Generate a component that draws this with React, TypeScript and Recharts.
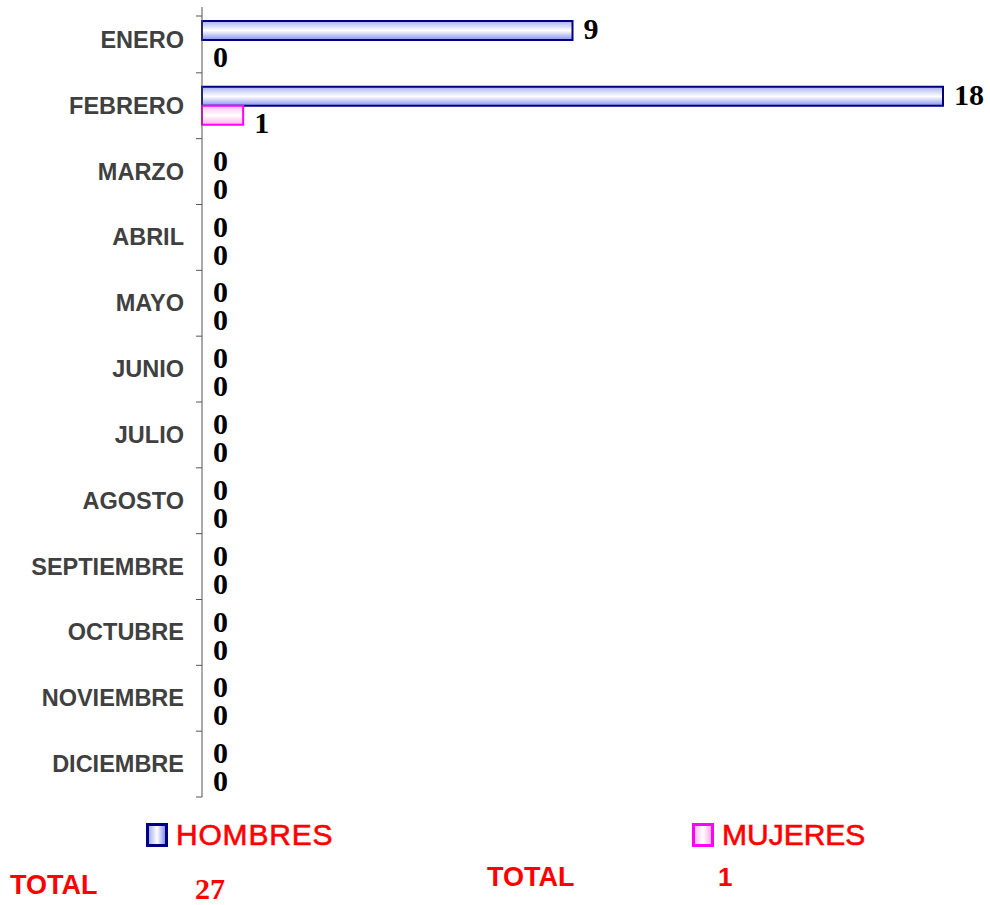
import React from 'react';
import { BarChart, Bar, XAxis, YAxis, LabelList, Cell } from 'recharts';

const months = ['ENERO', 'FEBRERO', 'MARZO', 'ABRIL', 'MAYO', 'JUNIO', 'JULIO', 'AGOSTO', 'SEPTIEMBRE', 'OCTUBRE', 'NOVIEMBRE', 'DICIEMBRE'];
const hombres = [9, 18, 0, 0, 0, 0, 0, 0, 0, 0, 0, 0];
const mujeres = [0, 1, 0, 0, 0, 0, 0, 0, 0, 0, 0, 0];
const seriesNames = ['HOMBRES', 'MUJERES'];
const totalLabel = 'TOTAL';

const data = months.map((m, i) => ({ month: m, hombres: hombres[i], mujeres: mujeres[i] }));
const totalH = hombres.reduce((a, b) => a + b, 0);
const totalM = mujeres.reduce((a, b) => a + b, 0);

const W = 990;
const H = 810;
const MT = 7;
const MB = 13;
const AXIS_W = 202;
const BAND = (H - MT - MB) / months.length;

const MonthTick = (props: any) => {
  const { y, payload, index } = props;
  const ax = AXIS_W;
  return (
    <g>
      <text x={ax - 18} y={y} textAnchor="end" dominantBaseline="central"
        fontFamily="'Liberation Sans', Arial, sans-serif" fontWeight="bold" fontSize={23.5} fill="#404040">
        {payload.value}
      </text>
      <line x1={ax - 6} x2={ax} y1={y + BAND / 2} y2={y + BAND / 2} stroke="#555" strokeWidth={1} />
      {index === 0 && <line x1={ax - 6} x2={ax} y1={16} y2={16} stroke="#555" strokeWidth={1} />}
    </g>
  );
};

const makeLabel = (dy: number) => (props: any) => {
  const { x, y, width, height, value } = props;
  const w = value > 0 ? width : 0;
  return (
    <text x={x + w + 11} y={y + height / 2 + dy} dominantBaseline="central"
      fontFamily="'Liberation Serif', 'Times New Roman', serif" fontWeight="bold" fontSize={30} fill="#000">
      {value}
    </text>
  );
};

const redFont = "'Liberation Sans', Arial, sans-serif";

const LegendIcon = ({ stroke, grad }: { stroke: string; grad: string }) => (
  <div style={{ width: 16, height: 18, border: `3px solid ${stroke}`, background: grad, boxSizing: 'content-box' }} />
);

export default function App() {
  return (
    <div style={{ position: 'absolute', left: 0, top: 0, width: W, height: 905, background: '#fff' }}>
      <BarChart width={W} height={H} data={data} layout="vertical" barSize={19} barGap={0}
        margin={{ top: MT, right: 47, bottom: MB, left: 0 }}>
        <defs>
          <linearGradient id="gH" x1="0" y1="0" x2="0" y2="1">
            <stop offset="0%" stopColor="#a8b0f2" />
            <stop offset="50%" stopColor="#ffffff" />
            <stop offset="100%" stopColor="#8890ec" />
          </linearGradient>
          <linearGradient id="gM" x1="0" y1="0" x2="0" y2="1">
            <stop offset="0%" stopColor="#ffc0ee" />
            <stop offset="50%" stopColor="#ffffff" />
            <stop offset="100%" stopColor="#ffb0e6" />
          </linearGradient>
        </defs>
        <XAxis type="number" domain={[0, 18]} hide />
        <YAxis type="category" dataKey="month" width={AXIS_W} tickLine={false}
          axisLine={{ stroke: '#555', strokeWidth: 1 }} tick={<MonthTick />} interval={0} />
        <Bar dataKey="hombres" fill="url(#gH)" stroke="#000080" strokeWidth={2} minPointSize={0.01} isAnimationActive={false}>
          {hombres.map((v, i) => (
            <Cell key={i} fill={v > 0 ? 'url(#gH)' : 'none'} stroke={v > 0 ? '#000080' : 'none'} />
          ))}
          <LabelList dataKey="hombres" content={makeLabel(-2)} />
        </Bar>
        <Bar dataKey="mujeres" fill="url(#gM)" stroke="#ff00ff" strokeWidth={2} minPointSize={0.01} isAnimationActive={false}>
          {mujeres.map((v, i) => (
            <Cell key={i} fill={v > 0 ? 'url(#gM)' : 'none'} stroke={v > 0 ? '#ff00ff' : 'none'} />
          ))}
          <LabelList dataKey="mujeres" content={makeLabel(7)} />
        </Bar>
      </BarChart>

      <div style={{ position: 'absolute', left: 146, top: 822, display: 'flex', alignItems: 'center' }}>
        <LegendIcon stroke="#000080" grad="linear-gradient(to right, #a8b0f2, #ffffff, #8890ec)" />
        <span style={{ marginLeft: 8, color: '#ff0000', fontFamily: redFont, fontSize: 30, lineHeight: '26px', letterSpacing: 0.8, WebkitTextStroke: '0.6px #ff0000' }}>{seriesNames[0]}</span>
      </div>
      <div style={{ position: 'absolute', left: 692, top: 822, display: 'flex', alignItems: 'center' }}>
        <LegendIcon stroke="#ff00ff" grad="linear-gradient(to right, #ffc0ee, #ffffff, #ffb0e6)" />
        <span style={{ marginLeft: 8, color: '#ff0000', fontFamily: redFont, fontSize: 30, lineHeight: '26px', letterSpacing: 0, WebkitTextStroke: '0.6px #ff0000' }}>{seriesNames[1]}</span>
      </div>

      <div style={{ position: 'absolute', left: 10, top: 870, color: '#ff0000', fontFamily: redFont, fontWeight: 'bold', fontSize: 27, lineHeight: '30px' }}>{totalLabel}</div>
      <div style={{ position: 'absolute', left: 195, top: 872, color: '#ff0000', fontFamily: "'Liberation Serif', serif", fontWeight: 'bold', fontSize: 30, lineHeight: '34px' }}>{totalH}</div>
      <div style={{ position: 'absolute', left: 487, top: 862, color: '#ff0000', fontFamily: redFont, fontWeight: 'bold', fontSize: 27, lineHeight: '30px' }}>{totalLabel}</div>
      <div style={{ position: 'absolute', left: 718, top: 862, color: '#ff0000', fontFamily: redFont, fontWeight: 'bold', fontSize: 26, lineHeight: '30px' }}>{totalM}</div>
    </div>
  );
}
